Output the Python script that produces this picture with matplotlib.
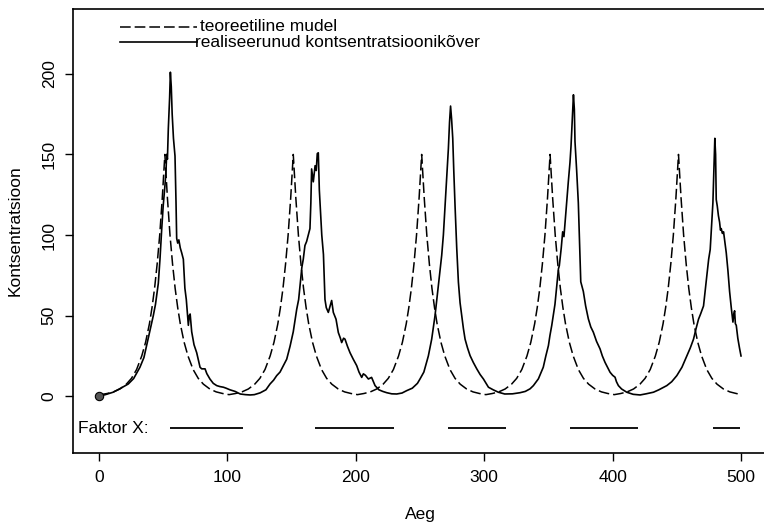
import matplotlib
matplotlib.use("Agg")
import matplotlib.pyplot as plt
from matplotlib.lines import Line2D

plt.rcParams['font.family'] = ['Liberation Sans', 'DejaVu Sans']

# ---------------- data ----------------
model_x = [0,
    1.3, 6.3, 11.3, 16.3, 21.3, 25.3, 29.3, 33.3, 36.3, 39.3, 41.3, 43.3, 45.3, 47.3, 49.3, 51.3,
    53.3, 55.3, 57.3, 59.3, 61.3, 63.3, 66.3, 69.3, 73.3, 77.3, 81.3, 86.3, 91.3, 96.3,
    101.3, 106.3, 111.3, 116.3, 121.3, 125.3, 129.3, 133.3, 136.3, 139.3, 141.3, 143.3, 145.3, 147.3, 149.3, 151.3,
    153.3, 155.3, 157.3, 159.3, 161.3, 163.3, 166.3, 169.3, 173.3, 177.3, 181.3, 186.3, 191.3, 196.3,
    201.3, 206.3, 211.3, 216.3, 221.3, 225.3, 229.3, 233.3, 236.3, 239.3, 241.3, 243.3, 245.3, 247.3, 249.3, 251.3,
    253.3, 255.3, 257.3, 259.3, 261.3, 263.3, 266.3, 269.3, 273.3, 277.3, 281.3, 286.3, 291.3, 296.3,
    301.3, 306.3, 311.3, 316.3, 321.3, 325.3, 329.3, 333.3, 336.3, 339.3, 341.3, 343.3, 345.3, 347.3, 349.3, 351.3,
    353.3, 355.3, 357.3, 359.3, 361.3, 363.3, 366.3, 369.3, 373.3, 377.3, 381.3, 386.3, 391.3, 396.3,
    401.3, 406.3, 411.3, 416.3, 421.3, 425.3, 429.3, 433.3, 436.3, 439.3, 441.3, 443.3, 445.3, 447.3, 449.3, 451.3,
    453.3, 455.3, 457.3, 459.3, 461.3, 463.3, 466.3, 469.3, 473.3, 477.3, 481.3, 486.3, 491.3, 496.3,
    500]
model_y = [0.9,
    1.0, 1.7, 2.7, 4.5, 7.5, 11.1, 16.6, 25, 33.5, 45, 55, 67, 82, 100, 123, 150,
    123, 100, 82, 67, 55, 45, 33.5, 25, 16.6, 11.1, 7.5, 4.5, 2.7, 1.7,
    1.0, 1.7, 2.7, 4.5, 7.5, 11.1, 16.6, 25, 33.5, 45, 55, 67, 82, 100, 123, 150,
    123, 100, 82, 67, 55, 45, 33.5, 25, 16.6, 11.1, 7.5, 4.5, 2.7, 1.7,
    1.0, 1.7, 2.7, 4.5, 7.5, 11.1, 16.6, 25, 33.5, 45, 55, 67, 82, 100, 123, 150,
    123, 100, 82, 67, 55, 45, 33.5, 25, 16.6, 11.1, 7.5, 4.5, 2.7, 1.7,
    1.0, 1.7, 2.7, 4.5, 7.5, 11.1, 16.6, 25, 33.5, 45, 55, 67, 82, 100, 123, 150,
    123, 100, 82, 67, 55, 45, 33.5, 25, 16.6, 11.1, 7.5, 4.5, 2.7, 1.7,
    1.0, 1.7, 2.7, 4.5, 7.5, 11.1, 16.6, 25, 33.5, 45, 55, 67, 82, 100, 123, 150,
    123, 100, 82, 67, 55, 45, 33.5, 25, 16.6, 11.1, 7.5, 4.5, 2.7, 1.7,
    1.1]

real_x = [0, 5, 11, 17, 22.8, 27, 31.9, 35, 39.2, 42.3, 44, 46.2, 47.5, 48.8, 50, 51.4,
    52.2, 52.7, 53.3, 54, 55, 55.6, 56.3, 57, 58, 59.2, 60, 60.5, 61.3, 62.2, 63.3,
    64.4, 65.7, 66.9, 68, 69.6, 70.3, 71, 72.2, 74, 76.1, 78.7, 80, 82.6, 84, 86.4,
    89, 91.7, 94.2, 96.9, 99, 102, 106, 110, 114, 117.7, 121, 125.5, 130, 133.2, 136,
    138.4, 141, 143.6, 146.2, 148.8, 151.3, 154, 155.5, 156.6, 158, 159.1, 160.4,
    161.7, 163, 164.3, 165, 165.6, 166.9, 168.3, 169.2, 170, 170.8, 171.6, 172.5,
    173.5, 174.8, 176, 177, 178.6, 180, 181.2, 182.5, 184.6, 186.4, 188, 189, 190.5,
    191.6, 193.5, 195.5, 198, 200.7, 202.5, 204.6, 205.9, 207.5, 209.8, 212.3, 215,
    218, 221, 224.1, 228, 231.9, 236, 239.7, 244, 248, 250, 253, 256.5, 259.1,
    261.7, 264.3, 266.9, 268.2, 269.5, 270.8, 272.1, 273, 273.8, 274.6, 275.5,
    276.3, 277.3, 278.6, 279.9, 281.2, 282.5, 283.8, 285.1, 287, 289, 291.5, 294.2,
    296.8, 299.4, 303.3, 307, 311, 316, 322, 327.9, 332, 335.7, 338.3,
    342.2, 346, 348, 350, 351.2, 352.6, 355.1, 357.8, 358.5, 360, 361.1, 362.1, 363,
    364.2, 365.5, 366.8, 367.6, 368.6, 369.5, 370.2, 370.7, 372, 373.3, 374.3, 375.2,
    376.2, 377.2, 379, 381.1, 383, 385, 387.5, 390.2, 392, 394.1, 396, 398, 400,
    401.9, 403, 404.5, 407, 411, 416, 421.4, 426, 431.8, 436, 442.2, 446, 450, 454,
    457.8, 460.5, 463, 465, 466.9, 468.5, 470.8, 472, 473.4, 474.8, 476, 477, 478.1,
    479, 479.6, 480.2, 480.7, 481.5, 482.4, 483.3, 484, 484.6, 485.5, 486.4, 487.5,
    488.5, 489.8, 491.1, 492.4, 493.7, 494.4, 495, 495.6, 496.3, 497.5, 498.8, 500]
real_y = [0, 1, 2.5, 5, 7.6, 11, 18, 24, 39, 50, 57, 70, 85, 103, 118, 131,
    140, 150, 147, 166, 185, 201, 192, 175, 160, 149, 120, 98, 95, 97, 92,
    89, 85, 67, 60, 44, 50, 51, 40, 32, 27, 18, 17, 17, 14, 10.7,
    8, 6.6, 6, 5.6, 5, 4, 3, 1.4, 1, 0.8, 1, 2.1, 4, 7.6, 10,
    12.8, 15, 19, 23, 31, 40, 54, 60, 69, 80, 85, 93.5,
    96, 100, 104, 120, 141, 133, 143, 140, 150.5, 151, 128, 115,
    100, 88, 60, 55, 52, 56, 59.4, 52, 47.8, 39.5, 36, 33.3, 36,
    35.4, 31, 27, 23, 19, 15, 11.7, 13.9, 13, 10.7, 11.7, 6.6,
    4, 3, 2.2, 1.5, 1.4, 2, 3.5, 5, 8, 10.7, 15, 25, 35.4,
    50, 68.7, 87.4, 100, 118, 135, 153.6, 170, 180, 172, 160,
    140, 118, 92, 70.8, 58, 50, 42, 35.4, 30, 25.2, 21, 17,
    13.5, 10.7, 5.6, 4, 2.5, 1.4, 1.5, 2.2, 3, 4.6, 6.6,
    10.8, 18, 25, 31.4, 37.7, 43.9, 57, 79, 81, 92, 102, 99, 108,
    120, 133, 145, 155, 172, 187, 178, 158, 140, 120, 95, 71,
    68, 65, 56, 48, 43, 39.7, 34, 29.4, 25, 21, 18, 14.9, 13,
    11.8, 9, 6.6, 4.5, 2.5, 1.2, 0.8, 1.5, 2.5, 4, 6.6, 9, 12.8, 18,
    25, 30, 35.4, 42, 47.8, 51, 56, 65, 75, 85, 91, 105, 120,
    145, 160, 150, 122, 118, 112, 108, 103, 104, 101, 102, 95,
    89, 78, 65, 55, 46, 51, 53, 45, 44, 36, 30, 25]

factor_start = [55, 168, 272, 367, 478]
factor_end = [112, 230, 317, 420, 499]
factor_level = -20
start_point = (0, 0)

x_ticks = [0, 100, 200, 300, 400, 500]
y_ticks = [0, 50, 100, 150, 200]

legend_labels = ["teoreetiline mudel", "realiseerunud kontsentratsioonikõver"]

# ---------------- figure ----------------
W, H = 764, 525
fig = plt.figure(figsize=(W / 100, H / 100), dpi=100)
ax = fig.add_axes([73.3 / W, 1 - 453 / H, 693.4 / W, 444 / H])
ax.set_xlim(-20, 520)
ax.set_ylim(-35.2, 240.2)

dash = (0, (7, 2.6))
ax.plot(model_x, model_y, color='black', lw=1.1, linestyle=dash)
ax.plot(real_x, real_y, color='black', lw=1.2)
ax.plot([start_point[0]], [start_point[1]], 'o', ms=6, mfc='#555555',
        mec='black', mew=0.8)

ax.hlines([factor_level] * len(factor_start), factor_start, factor_end,
          color='black', lw=1.3)
ax.text(-16.4, factor_level, "Faktor X:", ha='left', va='center', fontsize=12.5)

ax.set_xticks(x_ticks)
ax.set_yticks(y_ticks)
ax.tick_params(direction='out', length=6, width=1, labelsize=12.5, pad=6)
for lbl in ax.get_yticklabels():
    lbl.set_rotation(90)
    lbl.set_va('center')
for sp in ax.spines.values():
    sp.set_linewidth(1.2)

fig.text(15 / W, 1 - 231 / H, "Kontsentratsioon", rotation=90, ha='center',
         va='center', fontsize=12.5)
fig.text(420 / W, 1 - 515 / H, "Aeg", ha='center', va='center', fontsize=12.5)

# legend (manual, borderless)
fig.add_artist(Line2D([120 / W, 197 / W], [1 - 26.7 / H, 1 - 26.7 / H],
                      color='black', lw=1.1, linestyle=dash))
fig.add_artist(Line2D([120 / W, 197 / W], [1 - 42.3 / H, 1 - 42.3 / H],
                      color='black', lw=1.2))
fig.text(200 / W, 1 - 26.7 / H, legend_labels[0], ha='left', va='center', fontsize=12.5)
fig.text(195 / W, 1 - 42.3 / H, legend_labels[1], ha='left', va='center', fontsize=12.5)

fig.savefig("out.png", dpi=100)
